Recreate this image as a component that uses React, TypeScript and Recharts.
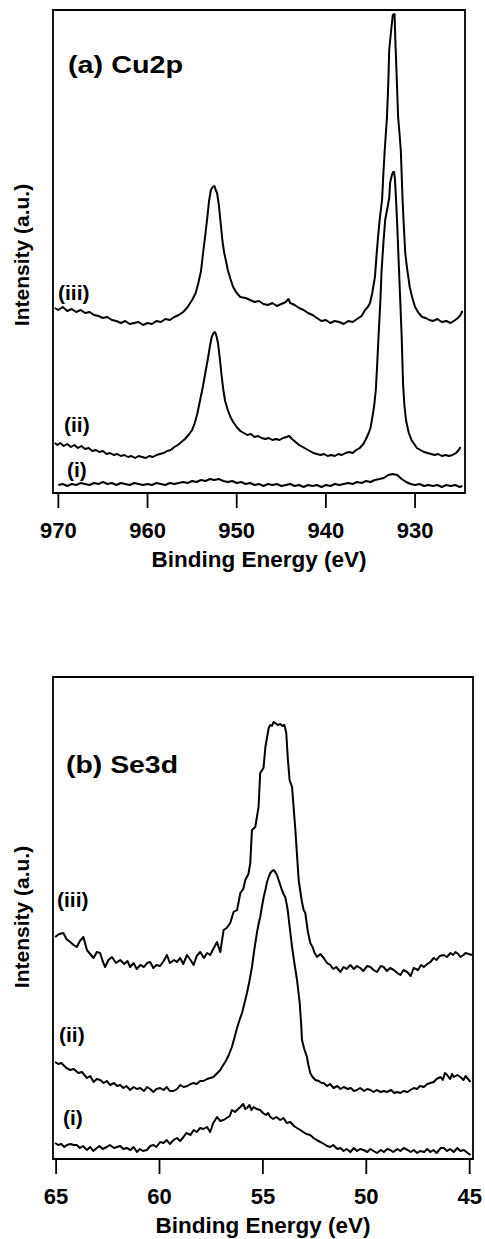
import { LineChart, Line, XAxis, YAxis, ReferenceArea } from 'recharts';

// Cu2p spectra: [binding energy (eV), intensity (a.u.)]
const cuTicks = [930, 940, 950, 960, 970];
const cuDomain = [924.4, 970.6];
const cuMax = 483;

const cuIii: number[][] = [
  [970.4, 185], [970.0, 183], [969.5, 186], [969.0, 182], [968.5, 184], [968.0, 181], [967.5, 183], [967.0, 180],
  [966.5, 181], [966.0, 178], [965.5, 177], [965.0, 175], [964.5, 176], [964.0, 173], [963.5, 172], [963.0, 170],
  [962.5, 172], [962.0, 169], [961.5, 170], [961.0, 171], [960.5, 168], [960.0, 170], [959.5, 169], [959.0, 172],
  [958.5, 171], [958.0, 174], [957.5, 173], [957.0, 176], [956.5, 178], [956.0, 181], [955.5, 186], [955.0, 193],
  [954.6, 200], [954.3, 210], [954.0, 222], [953.8, 238], [953.55, 256], [953.3, 275], [953.1, 292], [952.9, 303],
  [952.7, 306], [952.5, 307], [952.35, 303], [952.2, 300], [952.0, 288], [951.8, 270], [951.6, 252], [951.4, 240],
  [951.2, 232], [951.0, 223], [950.7, 214], [950.4, 206], [950.0, 200], [949.6, 196], [949.0, 195], [948.5, 193],
  [948.0, 191], [947.5, 192], [947.0, 189], [946.5, 188], [946.0, 190], [945.5, 187], [945.0, 189], [944.5, 191],
  [944.2, 194], [944.0, 190], [943.5, 188], [943.0, 185], [942.5, 183], [942.0, 180], [941.5, 178], [941.0, 175],
  [940.5, 172], [940.0, 173], [939.5, 170], [939.0, 172], [938.5, 171], [938.0, 169], [937.5, 172], [937.0, 171],
  [936.5, 174], [936.0, 177], [935.6, 183], [935.3, 186], [935.05, 190], [934.8, 200], [934.5, 216], [934.3, 240],
  [934.15, 256], [933.95, 275], [933.7, 293], [933.55, 320], [933.4, 343], [933.15, 376], [933.0, 410], [932.9, 443],
  [932.7, 461], [932.5, 478], [932.3, 479], [932.2, 450], [932.1, 426], [931.9, 376], [931.75, 360], [931.6, 343],
  [931.4, 293], [931.25, 265], [931.1, 240], [930.9, 225], [930.6, 206], [930.3, 195], [930.0, 186], [929.6, 180],
  [929.2, 176], [928.8, 175], [928.4, 173], [928.0, 172], [927.5, 174], [927.0, 171], [926.5, 172], [926.0, 170],
  [925.5, 173], [925.2, 175], [924.9, 178], [924.7, 182],
];

const cuIi: number[][] = [
  [970.4, 50], [970.1, 48], [969.8, 50], [969.4, 47], [969.0, 49], [968.6, 46], [968.2, 48], [967.8, 45],
  [967.4, 47], [967.0, 44], [966.6, 45], [966.2, 42], [965.8, 43], [965.4, 41], [965.0, 42], [964.6, 39],
  [964.2, 40], [963.8, 38], [963.4, 39], [963.0, 37], [962.6, 38], [962.2, 36], [961.8, 37], [961.4, 35],
  [961.0, 37], [960.6, 36], [960.2, 35], [959.8, 37], [959.4, 36], [959.0, 38], [958.6, 39], [958.2, 40],
  [957.8, 42], [957.4, 43], [957.0, 46], [956.6, 48], [956.2, 51], [955.8, 54], [955.4, 58], [955.0, 63],
  [954.7, 70], [954.4, 80], [954.1, 93], [953.8, 106], [953.5, 121], [953.2, 136], [953.0, 147], [952.8, 156],
  [952.6, 160], [952.45, 161], [952.3, 158], [952.1, 150], [951.9, 135], [951.7, 118], [951.5, 103], [951.3, 92],
  [951.0, 83], [950.7, 76], [950.4, 71], [950.0, 66], [949.6, 62], [949.2, 60], [948.8, 58], [948.4, 59],
  [948.0, 56], [947.6, 57], [947.2, 55], [946.8, 54], [946.4, 55], [946.0, 53], [945.6, 54], [945.2, 53],
  [944.8, 55], [944.4, 56], [944.1, 57], [943.8, 54], [943.4, 51], [943.0, 48], [942.6, 46], [942.2, 44],
  [941.8, 42], [941.4, 40], [941.0, 39], [940.6, 38], [940.2, 39], [939.8, 37], [939.4, 38], [939.0, 37],
  [938.6, 39], [938.2, 38], [937.8, 40], [937.4, 41], [937.0, 40], [936.6, 43], [936.2, 45], [935.8, 49],
  [935.5, 54], [935.2, 60], [935.0, 65], [934.8, 75], [934.6, 86], [934.4, 103], [934.25, 128], [934.1, 156],
  [933.9, 190], [933.75, 223], [933.55, 250], [933.35, 273], [933.1, 285], [932.9, 295], [932.8, 310], [932.6, 318],
  [932.45, 321], [932.35, 321], [932.25, 313], [932.13, 293], [932.0, 268], [931.8, 223], [931.65, 190], [931.5, 156],
  [931.35, 110], [931.2, 88], [931.0, 72], [930.7, 60], [930.4, 53], [930.1, 49], [929.8, 45], [929.4, 43],
  [929.0, 41], [928.6, 40], [928.2, 39], [927.8, 38], [927.4, 39], [927.0, 37], [926.6, 38], [926.2, 37],
  [925.8, 38], [925.4, 40], [925.1, 43], [924.9, 46],
];

const cuI: number[][] = [
  [970.0, 8], [969.5, 9], [969.0, 7], [968.5, 9], [968.0, 8], [967.5, 10], [967.0, 9], [966.5, 8],
  [966.0, 10], [965.5, 9], [965.0, 11], [964.5, 9], [964.0, 10], [963.5, 8], [963.0, 10], [962.5, 9],
  [962.0, 8], [961.5, 10], [961.0, 9], [960.5, 8], [960.0, 9], [959.5, 8], [959.0, 10], [958.5, 9],
  [958.0, 8], [957.5, 10], [957.0, 9], [956.5, 10], [956.0, 11], [955.5, 10], [955.0, 12], [954.5, 11],
  [954.0, 13], [953.5, 12], [953.0, 14], [952.5, 13], [952.0, 14], [951.5, 12], [951.0, 11], [950.5, 12],
  [950.0, 10], [949.5, 11], [949.0, 9], [948.5, 10], [948.0, 8], [947.5, 9], [947.0, 7], [946.5, 9],
  [946.0, 8], [945.5, 9], [945.0, 7], [944.5, 8], [944.0, 9], [943.5, 7], [943.0, 8], [942.5, 6],
  [942.0, 8], [941.5, 7], [941.0, 8], [940.5, 6], [940.0, 8], [939.5, 7], [939.0, 9], [938.5, 8],
  [938.0, 9], [937.5, 10], [937.0, 9], [936.5, 11], [936.0, 10], [935.5, 12], [935.0, 11], [934.5, 13],
  [934.0, 14], [933.5, 15], [933.0, 18], [932.5, 19], [932.0, 18], [931.5, 14], [931.0, 11], [930.5, 9],
  [930.0, 8], [929.5, 9], [929.0, 7], [928.5, 8], [928.0, 7], [927.5, 8], [927.0, 6], [926.5, 8],
  [926.0, 7], [925.5, 8], [925.0, 6], [924.7, 7],
];

// Se3d spectra
const seTicks = [45, 50, 55, 60, 65];
const seDomain = [44.84, 65.15];
const seMax = 482;

const seIii: number[][] = [
  [65.05, 222], [64.85, 225], [64.65, 226], [64.5, 220], [64.32, 217], [64.15, 214], [64.0, 212], [63.85, 218],
  [63.68, 222], [63.51, 209], [63.35, 205], [63.19, 201], [63.03, 207], [62.87, 206], [62.75, 198], [62.63, 192],
  [62.47, 199], [62.3, 202], [62.1, 196], [61.9, 199], [61.7, 195], [61.55, 198], [61.42, 192], [61.25, 196],
  [61.1, 190], [60.93, 194], [60.75, 192], [60.6, 196], [60.45, 197], [60.3, 191], [60.15, 194], [59.97, 193],
  [59.8, 198], [59.64, 204], [59.5, 196], [59.3, 199], [59.16, 197], [59.0, 201], [58.85, 195], [58.67, 204],
  [58.5, 199], [58.35, 194], [58.2, 203], [58.03, 207], [57.85, 201], [57.7, 206], [57.55, 204], [57.4, 210],
  [57.22, 217], [57.06, 207], [56.9, 229], [56.75, 231], [56.58, 236], [56.42, 247], [56.25, 249], [56.09, 266],
  [55.95, 270], [55.85, 279], [55.7, 285], [55.61, 296], [55.53, 329], [55.37, 332], [55.21, 352], [55.13, 386],
  [54.97, 391], [54.88, 412], [54.72, 431], [54.64, 434], [54.56, 433], [54.48, 437], [54.4, 436], [54.28, 434],
  [54.16, 435], [54.05, 433], [53.96, 434], [53.87, 426], [53.8, 402], [53.71, 379], [53.59, 372], [53.43, 329],
  [53.27, 279], [53.12, 258], [53.03, 249], [52.95, 246], [52.83, 228], [52.71, 216], [52.6, 212], [52.5, 206],
  [52.38, 202], [52.22, 205], [52.06, 201], [51.9, 196], [51.74, 194], [51.6, 190], [51.45, 192], [51.25, 187],
  [51.1, 192], [50.95, 190], [50.77, 194], [50.6, 190], [50.45, 193], [50.29, 191], [50.15, 188], [49.95, 193],
  [49.8, 192], [49.65, 189], [49.48, 187], [49.3, 193], [49.16, 192], [49.0, 188], [48.85, 191], [48.67, 189],
  [48.5, 186], [48.35, 184], [48.2, 189], [48.02, 187], [47.85, 183], [47.71, 191], [47.5, 189], [47.35, 194],
  [47.22, 192], [47.05, 195], [46.9, 197], [46.74, 201], [46.6, 199], [46.45, 203], [46.25, 204], [46.1, 202],
  [45.93, 206], [45.8, 204], [45.69, 207], [45.55, 205], [45.45, 202], [45.3, 204], [45.2, 206], [45.05, 205],
  [44.88, 204],
];

const seIi: number[][] = [
  [65.05, 97], [64.9, 95], [64.75, 96], [64.65, 94], [64.5, 91], [64.32, 89], [64.15, 90], [63.92, 86],
  [63.75, 87], [63.51, 81], [63.35, 83], [63.19, 77], [63.03, 80], [62.87, 79], [62.7, 76], [62.55, 78],
  [62.39, 74], [62.2, 76], [62.05, 73], [61.9, 74], [61.75, 71], [61.6, 73], [61.42, 69], [61.25, 72],
  [61.1, 70], [60.93, 71], [60.75, 68], [60.6, 72], [60.45, 70], [60.3, 67], [60.15, 70], [59.97, 71],
  [59.8, 69], [59.65, 72], [59.5, 68], [59.32, 68], [59.15, 70], [59.0, 74], [58.84, 72], [58.65, 73],
  [58.5, 75], [58.35, 76], [58.2, 75], [58.03, 78], [57.87, 78], [57.7, 80], [57.55, 81], [57.39, 82],
  [57.2, 86], [57.06, 89], [56.95, 93], [56.82, 97], [56.65, 104], [56.5, 112], [56.38, 121], [56.25, 131],
  [56.13, 139], [56.01, 146], [55.9, 155], [55.77, 166], [55.65, 178], [55.53, 192], [55.41, 210], [55.29, 226],
  [55.2, 236], [55.13, 242], [55.05, 252], [54.96, 262], [54.88, 269], [54.8, 277], [54.72, 282], [54.64, 286],
  [54.56, 288], [54.48, 289], [54.4, 287], [54.32, 284], [54.24, 279], [54.16, 274], [54.08, 269], [54.0, 265],
  [53.92, 262], [53.85, 255], [53.8, 249], [53.7, 231], [53.59, 212], [53.47, 195], [53.35, 179], [53.22, 156],
  [53.15, 135], [53.11, 119], [53.0, 110], [52.87, 102], [52.8, 94], [52.71, 86], [52.6, 82], [52.46, 79],
  [52.3, 78], [52.16, 76], [52.06, 76], [51.9, 73], [51.75, 75], [51.58, 71], [51.4, 73], [51.25, 70],
  [51.09, 72], [50.9, 70], [50.75, 71], [50.6, 68], [50.45, 69], [50.3, 71], [50.1, 68], [49.95, 70],
  [49.8, 69], [49.65, 67], [49.5, 69], [49.3, 67], [49.16, 68], [49.0, 67], [48.8, 69], [48.65, 66],
  [48.51, 67], [48.35, 66], [48.2, 68], [48.0, 67], [47.87, 69], [47.7, 71], [47.55, 70], [47.4, 73],
  [47.22, 72], [47.05, 75], [46.9, 76], [46.74, 77], [46.6, 80], [46.41, 82], [46.3, 79], [46.2, 86],
  [46.09, 84], [45.95, 80], [45.85, 85], [45.77, 82], [45.6, 84], [45.45, 82], [45.3, 79], [45.2, 83],
  [45.12, 81], [44.96, 77],
];

const seI: number[][] = [
  [65.05, 16], [64.9, 14], [64.75, 15], [64.6, 12], [64.48, 14], [64.3, 15], [64.15, 14], [64.0, 14],
  [63.85, 11], [63.7, 13], [63.51, 9], [63.35, 12], [63.2, 8], [63.03, 11], [62.9, 13], [62.75, 10],
  [62.55, 12], [62.4, 14], [62.2, 11], [62.06, 12], [61.9, 13], [61.75, 10], [61.58, 11], [61.4, 9],
  [61.25, 12], [61.09, 7], [60.95, 10], [60.8, 8], [60.61, 9], [60.45, 13], [60.29, 14], [60.15, 12],
  [59.97, 17], [59.81, 16], [59.65, 19], [59.5, 15], [59.32, 19], [59.15, 21], [59.0, 18], [58.84, 22],
  [58.7, 26], [58.5, 24], [58.35, 29], [58.2, 27], [58.03, 31], [57.87, 30], [57.7, 32], [57.55, 27],
  [57.4, 36], [57.22, 42], [57.06, 38], [56.9, 39], [56.75, 41], [56.6, 43], [56.5, 49], [56.35, 47],
  [56.2, 50], [56.09, 52], [55.95, 55], [55.85, 50], [55.77, 51], [55.65, 54], [55.55, 49], [55.45, 52],
  [55.3, 50], [55.13, 49], [55.0, 46], [54.85, 44], [54.75, 46], [54.64, 42], [54.5, 40], [54.35, 42],
  [54.16, 39], [54.0, 41], [53.85, 36], [53.67, 37], [53.5, 33], [53.35, 31], [53.19, 29], [53.05, 27],
  [52.9, 25], [52.71, 24], [52.55, 21], [52.4, 19], [52.22, 17], [52.05, 15], [51.9, 13], [51.74, 12],
  [51.6, 14], [51.4, 10], [51.25, 11], [51.1, 8], [50.95, 10], [50.77, 7], [50.6, 11], [50.45, 8],
  [50.3, 10], [50.13, 9], [49.95, 7], [49.8, 10], [49.65, 8], [49.48, 6], [49.3, 9], [49.15, 7],
  [48.99, 10], [48.84, 9], [48.7, 7], [48.5, 10], [48.35, 8], [48.19, 11], [48.0, 9], [47.85, 7],
  [47.7, 9], [47.54, 6], [47.4, 8], [47.2, 7], [47.05, 10], [46.9, 7], [46.75, 9], [46.6, 6],
  [46.4, 11], [46.25, 11], [46.1, 8], [45.95, 10], [45.77, 7], [45.6, 11], [45.45, 8], [45.28, 9],
  [45.1, 6], [44.96, 4],
];

const FONT = '"Liberation Sans", Arial, Helvetica, sans-serif';

const toPoints = (arr: number[][]) => arr.map(([be, y]) => ({ be, y }));

function Panel({ series, ticks, domain, yMax, height, margin }: {
  series: number[][][];
  ticks: number[];
  domain: number[];
  yMax: number;
  height: number;
  margin: { top: number; right: number; left: number; bottom: number };
}) {
  return (
    <LineChart width={485} height={height} margin={margin}>
      <XAxis
        type="number"
        dataKey="be"
        domain={domain}
        reversed
        allowDataOverflow
        ticks={ticks}
        interval={0}
        height={80}
        tickSize={15}
        tickMargin={14}
        axisLine={{ stroke: '#000', strokeWidth: 1.8 }}
        tickLine={{ stroke: '#000', strokeWidth: 1.8 }}
        tick={{ fill: '#000', fontSize: 22, fontWeight: 'bold', fontFamily: FONT }}
        label={{
          value: 'Binding Energy (eV)',
          position: 'insideBottom',
          offset: 6,
          fill: '#000',
          fontSize: 22.5,
          fontWeight: 'bold',
          fontFamily: FONT,
        }}
      />
      <YAxis hide type="number" domain={[0, yMax]} allowDataOverflow />
      <ReferenceArea
        x1={domain[0]}
        x2={domain[1]}
        y1={0}
        y2={yMax}
        stroke="#000"
        strokeWidth={1.8}
        fill="none"
        fillOpacity={0}
      />
      {series.map((s, i) => (
        <Line
          key={i}
          data={toPoints(s)}
          dataKey="y"
          type="linear"
          stroke="#000"
          strokeWidth={2}
          strokeLinejoin="round"
          dot={false}
          isAnimationActive={false}
        />
      ))}
    </LineChart>
  );
}

const labelStyle = { fontFamily: FONT, fontWeight: 'bold' as const, fill: '#000' };

export default function App() {
  return (
    <div style={{ position: 'absolute', left: 0, top: 0, width: 485, height: 1239, background: '#fff' }}>
      <div style={{ position: 'absolute', left: 0, top: 0 }}>
        <Panel
          series={[cuIii, cuIi, cuI]}
          ticks={cuTicks}
          domain={cuDomain}
          yMax={cuMax}
          height={580}
          margin={{ top: 10, right: 20, left: 53, bottom: 7 }}
        />
      </div>
      <div style={{ position: 'absolute', left: 0, top: 600 }}>
        <Panel
          series={[seIii, seIi, seI]}
          ticks={seTicks}
          domain={seDomain}
          yMax={seMax}
          height={639}
          margin={{ top: 77, right: 12, left: 53, bottom: 0 }}
        />
      </div>
      <svg width={485} height={1239} style={{ position: 'absolute', left: 0, top: 0, pointerEvents: 'none' }}>
        <text x={68} y={73} fontSize={24} textLength={115} lengthAdjust="spacingAndGlyphs" {...labelStyle}>(a) Cu2p</text>
        <text x={66} y={773} fontSize={24} textLength={112} lengthAdjust="spacingAndGlyphs" {...labelStyle}>(b) Se3d</text>
        <text transform="translate(29, 255) rotate(-90)" textAnchor="middle" fontSize={21} {...labelStyle}>Intensity (a.u.)</text>
        <text transform="translate(29, 917) rotate(-90)" textAnchor="middle" fontSize={21} {...labelStyle}>Intensity (a.u.)</text>
        <text x={58} y={300} fontSize={21} {...labelStyle}>(iii)</text>
        <text x={64} y={432} fontSize={21} {...labelStyle}>(ii)</text>
        <text x={67} y={477} fontSize={21} {...labelStyle}>(i)</text>
        <text x={57} y={907} fontSize={21} {...labelStyle}>(iii)</text>
        <text x={59} y={1042} fontSize={21} {...labelStyle}>(ii)</text>
        <text x={63} y={1125} fontSize={21} {...labelStyle}>(i)</text>
      </svg>
    </div>
  );
}
